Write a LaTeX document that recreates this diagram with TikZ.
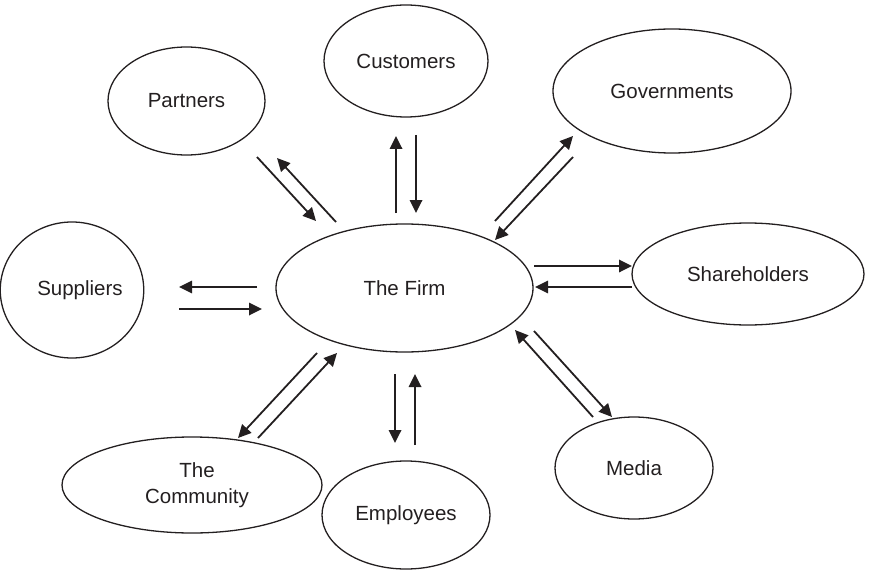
\documentclass[tikz,border=0pt]{standalone}
\usepackage{fontspec}
\setmainfont{Liberation Sans}
\usetikzlibrary{shapes.geometric,arrows.meta}
\definecolor{ink}{HTML}{231F20}
\begin{document}
\begin{tikzpicture}[x=1pt,y=-1pt,
  party/.style={draw=ink,line width=1.3pt,ellipse,inner sep=0pt,
    text=ink,font=\fontsize{20.5}{26}\selectfont,align=center},
  flow/.style={draw=ink,line width=1.8pt,-{Triangle[length=13pt,width=12.5pt]}}]
\useasboundingbox (0,0) rectangle (869,572);

% stakeholders around the firm
\node[party,minimum width=257pt,minimum height=128pt] (firm) at (404.5,288) {The Firm};
\node[party,minimum width=164pt,minimum height=112pt] (cust) at (406,61) {Customers};
\node[party,minimum width=157pt,minimum height=108pt] (part) at (186.5,101) {Partners};
\node[party,minimum width=238pt,minimum height=124pt] (gov) at (672,91) {Governments};
\node[party,minimum width=132pt,minimum height=136pt] (supp) at (72,290) {\hspace*{16pt}Suppliers};
\node[party,minimum width=232pt,minimum height=102pt] (share) at (748,274) {Shareholders};
\node[party,minimum width=260pt,minimum height=96pt] (comm) at (192,485) {\hspace*{10pt}The\\\hspace*{10pt}Community};
\node[party,minimum width=168pt,minimum height=108pt] (empl) at (406,515) {Employees};
\node[party,minimum width=158pt,minimum height=102pt] (media) at (634,468) {Media};

% end points of the paired flows
\coordinate (pa1) at (257,157); \coordinate (pa2) at (316,221);
\coordinate (pb1) at (336,222); \coordinate (pb2) at (277,158);
\coordinate (ca1) at (396,213); \coordinate (ca2) at (396,136);
\coordinate (cb1) at (416,135); \coordinate (cb2) at (416,213);
\coordinate (ga1) at (495,221); \coordinate (ga2) at (573,136);
\coordinate (gb1) at (573,157); \coordinate (gb2) at (495,240);
\coordinate (sa1) at (257,287); \coordinate (sa2) at (179,287);
\coordinate (sb1) at (179,309); \coordinate (sb2) at (262,309);
\coordinate (ha1) at (534,266); \coordinate (ha2) at (632,266);
\coordinate (hb1) at (632,287); \coordinate (hb2) at (535,287);
\coordinate (ta1) at (317,353); \coordinate (ta2) at (238,438);
\coordinate (tb1) at (258,438); \coordinate (tb2) at (337,353);
\coordinate (ea1) at (395,374); \coordinate (ea2) at (395,443);
\coordinate (eb1) at (415,445); \coordinate (eb2) at (415,374);
\coordinate (ma1) at (593,417); \coordinate (ma2) at (515,330);
\coordinate (mb1) at (534,331); \coordinate (mb2) at (612,417);

\draw[flow] (pa1) -- (pa2);
\draw[flow] (pb1) -- (pb2);
\draw[flow] (ca1) -- (ca2);
\draw[flow] (cb1) -- (cb2);
\draw[flow] (ga1) -- (ga2);
\draw[flow] (gb1) -- (gb2);
\draw[flow] (sa1) -- (sa2);
\draw[flow] (sb1) -- (sb2);
\draw[flow] (ha1) -- (ha2);
\draw[flow] (hb1) -- (hb2);
\draw[flow] (ta1) -- (ta2);
\draw[flow] (tb1) -- (tb2);
\draw[flow] (ea1) -- (ea2);
\draw[flow] (eb1) -- (eb2);
\draw[flow] (ma1) -- (ma2);
\draw[flow] (mb1) -- (mb2);
\end{tikzpicture}
\end{document}
